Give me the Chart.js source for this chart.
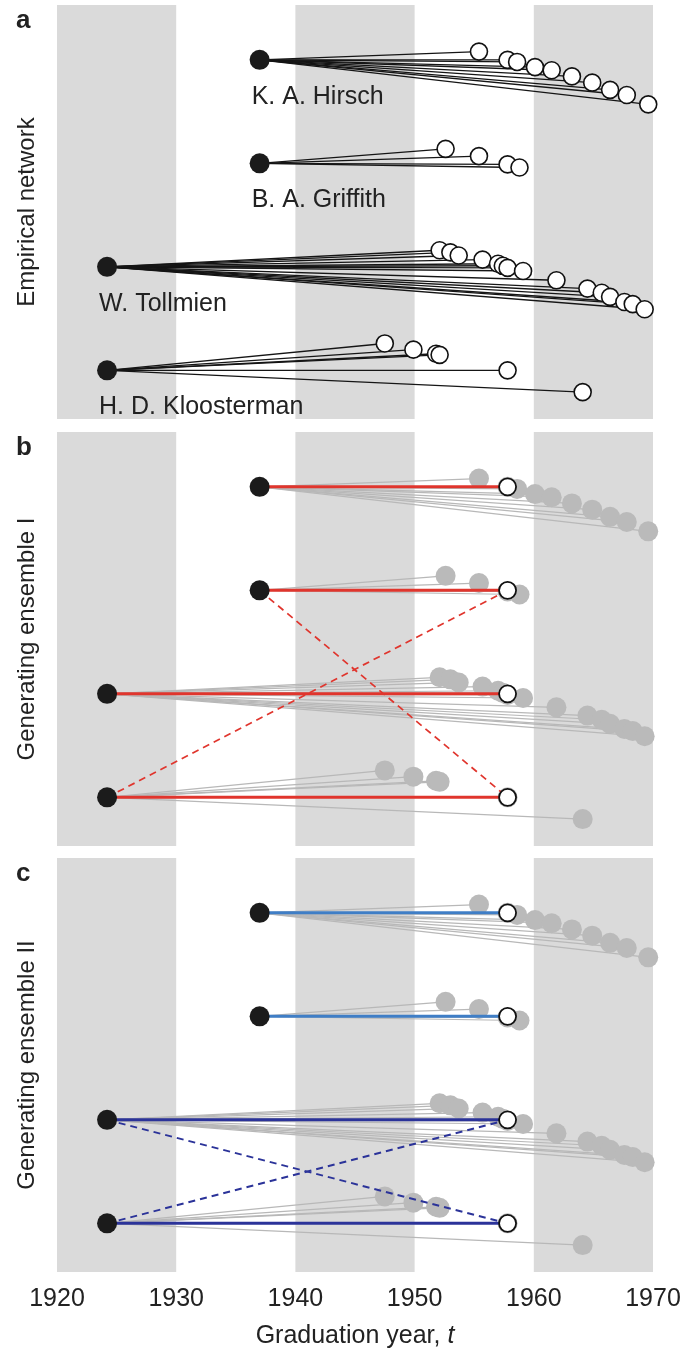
<!DOCTYPE html>
<html>
<head>
<meta charset="utf-8">
<script src="https://cdn.jsdelivr.net/npm/chart.js@4.4.1/dist/chart.umd.min.js"></script>
<style>
  body { margin: 0; background: #fff; width: 681px; height: 1353px; position: relative; overflow: hidden;
         font-family: "Liberation Sans", Arial, sans-serif; color: #222; }
  canvas { position: absolute; left: 0; }
  .letter { position: absolute; left: 16px; font-weight: bold; font-size: 26px; line-height: 1; z-index: 2; }
  #xtitle { position: absolute; top: 1320px; left: 57px; width: 596px; text-align: center; font-size: 25px; }
</style>
</head>
<body>
<canvas id="panelA" width="681" height="424" style="top:0px"></canvas>
<canvas id="panelB" width="681" height="424" style="top:427px"></canvas>
<canvas id="panelC" width="681" height="480" style="top:853px"></canvas>
<div class="letter" style="top:6px">a</div>
<div class="letter" style="top:433px">b</div>
<div class="letter" style="top:859px">c</div>
<div id="xtitle">Graduation year, <i>t</i></div>
<script>
// shaded decades and axis ticks
const bandStarts = [1920, 1940, 1960];
const bandEnds = [1930, 1950, 1970];
const xTicks = [1920, 1930, 1940, 1950, 1960, 1970];

// supervisors (one row each)
const supervisors = ['K. A. Hirsch', 'B. A. Griffith', 'W. Tollmien', 'H. D. Kloosterman'];
const supervisorYears = [1937.0, 1937.0, 1924.2, 1924.2];
const supervisorRows = [1, 2, 3, 4];

// students: graduation year and vertical drop below the supervisor row
const hirschYears = [1955.4, 1957.8, 1958.6, 1960.1, 1961.5, 1963.2, 1964.9, 1966.4, 1967.8, 1969.6];
const hirschDrops = [-0.08, 0, 0.02, 0.07, 0.10, 0.16, 0.22, 0.29, 0.34, 0.43];
const griffithYears = [1952.6, 1955.4, 1957.8, 1958.8];
const griffithDrops = [-0.14, -0.07, 0.01, 0.04];
const tollmienYears = [1952.1, 1953.0, 1953.7, 1955.7, 1957.0, 1957.4, 1957.8, 1959.1, 1961.9, 1964.5, 1965.7, 1966.4, 1967.6, 1968.3, 1969.3];
const tollmienDrops = [-0.16, -0.14, -0.11, -0.07, -0.03, -0.01, 0.01, 0.04, 0.13, 0.21, 0.25, 0.29, 0.34, 0.36, 0.41];
const kloostermanYears = [1947.5, 1949.9, 1951.8, 1952.1, 1957.8, 1964.1];
const kloostermanDrops = [-0.26, -0.20, -0.16, -0.15, 0, 0.21];

// generating ensembles
const targetYear = 1957.8;
const ensembleIColors = ['#e0352d', '#e0352d', '#e0352d', '#e0352d'];
const ensembleISwap = [2, 4];
const ensembleIIColors = ['#3f7ec6', '#3f7ec6', '#2b3399', '#2b3399'];
const ensembleIISwap = [3, 4];

const studentYears = [hirschYears, griffithYears, tollmienYears, kloostermanYears];
const studentDrops = [hirschDrops, griffithDrops, tollmienDrops, kloostermanDrops];
const FONT = '"Liberation Sans", Arial, sans-serif';

function edgeSet(x1, y1, x2, y2, color, width, dash, order) {
  return {
    showLine: true, data: [{ x: x1, y: y1 }, { x: x2, y: y2 }],
    borderColor: color, borderWidth: width, borderDash: dash || [],
    pointRadius: 0, pointHoverRadius: 0, order: order, clip: false
  };
}

function dotSet(points, fill, stroke, radius, border, order) {
  return {
    data: points, backgroundColor: fill, borderColor: stroke,
    pointRadius: radius, pointHoverRadius: radius, borderWidth: border,
    order: order, clip: false
  };
}

function empiricalSets(lineColor, lineWidth, fill, stroke, radius, border) {
  const sets = [];
  const pts = [];
  supervisors.forEach((name, i) => {
    studentYears[i].forEach((yr, j) => {
      const y = supervisorRows[i] + studentDrops[i][j];
      sets.push(edgeSet(supervisorYears[i], supervisorRows[i], yr, y, lineColor, lineWidth, null, 6));
      pts.push({ x: yr, y: y });
    });
  });
  sets.push(dotSet(pts, fill, stroke, radius, border, 5));
  return sets;
}

function supervisorSet() {
  const pts = supervisors.map((n, i) => ({ x: supervisorYears[i], y: supervisorRows[i] }));
  return dotSet(pts, '#1b1b1b', '#1b1b1b', 10, 0, 1);
}

function ensembleSets(colors, swap, dashWidth) {
  const sets = [];
  supervisors.forEach((n, i) => {
    sets.push(edgeSet(supervisorYears[i], supervisorRows[i], targetYear, supervisorRows[i], colors[i], 3, null, 3));
  });
  const a = swap[0] - 1, b = swap[1] - 1;
  sets.push(edgeSet(supervisorYears[a], supervisorRows[a], targetYear, supervisorRows[b], colors[b], dashWidth, [7, 5], 3));
  sets.push(edgeSet(supervisorYears[b], supervisorRows[b], targetYear, supervisorRows[a], colors[a], dashWidth, [7, 5], 3));
  const targets = supervisors.map((n, i) => ({ x: targetYear, y: supervisorRows[i] }));
  sets.push(dotSet(targets, '#ffffff', '#111111', 8.5, 1.8, 2));
  return sets;
}

const bandPlugin = {
  id: 'bands',
  beforeDatasetsDraw(chart) {
    const { ctx, chartArea, scales: { x } } = chart;
    ctx.save();
    ctx.fillStyle = '#dadada';
    bandStarts.forEach((s, i) => {
      const l = x.getPixelForValue(s), r = x.getPixelForValue(bandEnds[i]);
      ctx.fillRect(l, chartArea.top, r - l, chartArea.bottom - chartArea.top);
    });
    ctx.restore();
  }
};

const namePlugin = {
  id: 'names',
  afterDatasetsDraw(chart) {
    const { ctx, scales: { x, y } } = chart;
    ctx.save();
    ctx.font = '25px ' + FONT;
    ctx.fillStyle = '#222';
    ctx.textBaseline = 'middle';
    supervisors.forEach((name, i) => {
      ctx.fillText(name, x.getPixelForValue(supervisorYears[i]) - 8, y.getPixelForValue(supervisorRows[i]) + 37);
    });
    ctx.restore();
  }
};

function buildPanel(id, title, datasets, showX, plugins) {
  return new Chart(document.getElementById(id), {
    type: 'scatter',
    data: { datasets: datasets },
    options: {
      responsive: false,
      animation: false,
      events: [],
      layout: { autoPadding: false, padding: { top: 5, bottom: showX ? 0 : 5, left: 0, right: 28 } },
      plugins: { legend: { display: false }, tooltip: { enabled: false } },
      scales: {
        x: {
          type: 'linear', min: 1920, max: 1970, display: showX,
          grid: { display: false, drawTicks: false }, border: { display: false },
          afterBuildTicks: axis => { axis.ticks = xTicks.map(v => ({ value: v })); },
          afterFit: axis => {
            if (showX) axis.height = 61;
            axis.paddingLeft = 0;
            axis.paddingRight = 0;
          },
          ticks: { font: { size: 25, family: FONT }, color: '#222', padding: 12, maxRotation: 0, callback: v => String(v) }
        },
        y: {
          min: 0.47, max: 4.47, reverse: true,
          grid: { display: false }, border: { display: false }, ticks: { display: false },
          afterFit: axis => { axis.width = 57; },
          title: { display: true, text: title, font: { size: 24, family: FONT }, color: '#222', padding: { top: 13, bottom: 0 } }
        }
      }
    },
    plugins: plugins
  });
}

buildPanel('panelA', 'Empirical network',
  empiricalSets('#151515', 1.4, '#ffffff', '#111111', 8.5, 1.6).concat([supervisorSet()]),
  false, [bandPlugin, namePlugin]);

buildPanel('panelB', 'Generating ensemble I',
  empiricalSets('#b8b8b8', 1.2, '#bababa', '#bababa', 10, 0).concat(ensembleSets(ensembleIColors, ensembleISwap, 1.7), [supervisorSet()]),
  false, [bandPlugin]);

buildPanel('panelC', 'Generating ensemble II',
  empiricalSets('#b8b8b8', 1.2, '#bababa', '#bababa', 10, 0).concat(ensembleSets(ensembleIIColors, ensembleIISwap, 2), [supervisorSet()]),
  true, [bandPlugin]);
</script>
</body>
</html>
